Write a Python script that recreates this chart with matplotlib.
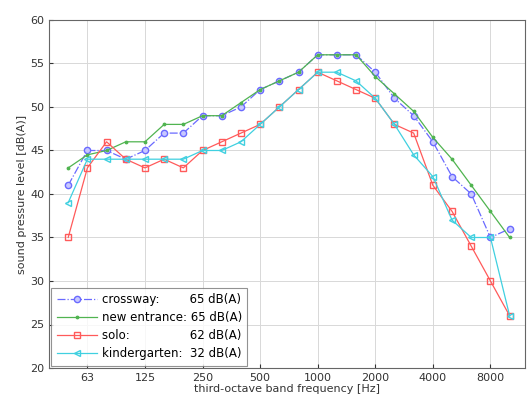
import numpy as np
import matplotlib
matplotlib.use('Agg')
import matplotlib.pyplot as plt

# third-octave bands 50 Hz .. 10 kHz
bands = [50, 63, 80, 100, 125, 160, 200, 250, 315, 400, 500, 630, 800,
         1000, 1250, 1600, 2000, 2500, 3150, 4000, 5000, 6300, 8000, 10000]
tick_bands = [63, 125, 250, 500, 1000, 2000, 4000, 8000]

crossway = [41, 45, 45, 44, 45, 47, 47, 49, 49, 50, 52, 53, 54,
            56, 56, 56, 54, 51, 49, 46, 42, 40, 35, 36]
new_entrance = [43, 44.5, 45, 46, 46, 48, 48, 49, 49, 50.5, 52, 53, 54,
                56, 56, 56, 53.5, 51.5, 49.5, 46.5, 44, 41, 38, 35]
solo = [35, 43, 46, 44, 43, 44, 43, 45, 46, 47, 48, 50, 52,
        54, 53, 52, 51, 48, 47, 41, 38, 34, 30, 26]
kindergarten = [39, 44, 44, 44, 44, 44, 44, 45, 45, 46, 48, 50, 52,
                54, 54, 53, 51, 48, 44.5, 42, 37, 35, 35, 26]

names = ['crossway:', 'new entrance:', 'solo:', 'kindergarten:']
levels = ['65 dB(A)', '65 dB(A)', '62 dB(A)', '32 dB(A)']

x = np.arange(len(bands))

fig = plt.figure(figsize=(5.27, 3.99), dpi=100)
ax = fig.add_axes([49 / 527, 31 / 399, 476 / 527, 348 / 399])

# pad names with spaces so the levels line up in the legend
LEG_FS = 8.5
r = fig.canvas.get_renderer()
def text_w(s):
    t = fig.text(0, 0, s, fontsize=LEG_FS)
    w = t.get_window_extent(r).width
    t.remove()
    return w
target = max(text_w(n) for n in names) + 5
labels = []
for n, lv in zip(names, levels):
    s = n
    while text_w(s + ' ') <= target:
        s += ' '
    labels.append(s + lv)

ax.plot(x, crossway, '-.', color='#6a6aff', marker='o', markersize=4.5,
        markerfacecolor='#c8c8ff', linewidth=0.9, label=labels[0])
ax.plot(x, new_entrance, '-', color='#50b450', marker='.', markersize=3.5,
        linewidth=0.9, label=labels[1])
ax.plot(x, solo, '-', color='#ff5a5a', marker='s', markersize=4,
        markerfacecolor='none', linewidth=0.9, label=labels[2])
ax.plot(x, kindergarten, '-', color='#40d0e0', marker='<', markersize=4,
        markerfacecolor='none', linewidth=0.9, label=labels[3])

ax.set_xlim(-1, 23.8)
ax.set_ylim(20, 60)
ax.set_xticks([bands.index(b) for b in tick_bands])
ax.set_xticklabels([str(b) for b in tick_bands])
ax.set_yticks(range(20, 61, 5))
ax.grid(True, color='#d8d8d8', linewidth=0.7)
ax.tick_params(labelsize=8, direction='in', length=3, colors='#333333')
for s in ax.spines.values():
    s.set_color('#666666')

ax.set_xlabel('third-octave band frequency [Hz]', fontsize=8, labelpad=1,
              color='#333333')
ax.set_ylabel('sound pressure level [dB(A)]', fontsize=8, labelpad=2,
              color='#333333')

leg = ax.legend(loc='lower left', fontsize=LEG_FS, frameon=True, fancybox=False,
                edgecolor='#777777', borderaxespad=0.2, handlelength=3.4,
                labelspacing=0.42, borderpad=0.45, handletextpad=0.4)
leg.get_frame().set_linewidth(0.8)

fig.savefig('out.png', dpi=100)
